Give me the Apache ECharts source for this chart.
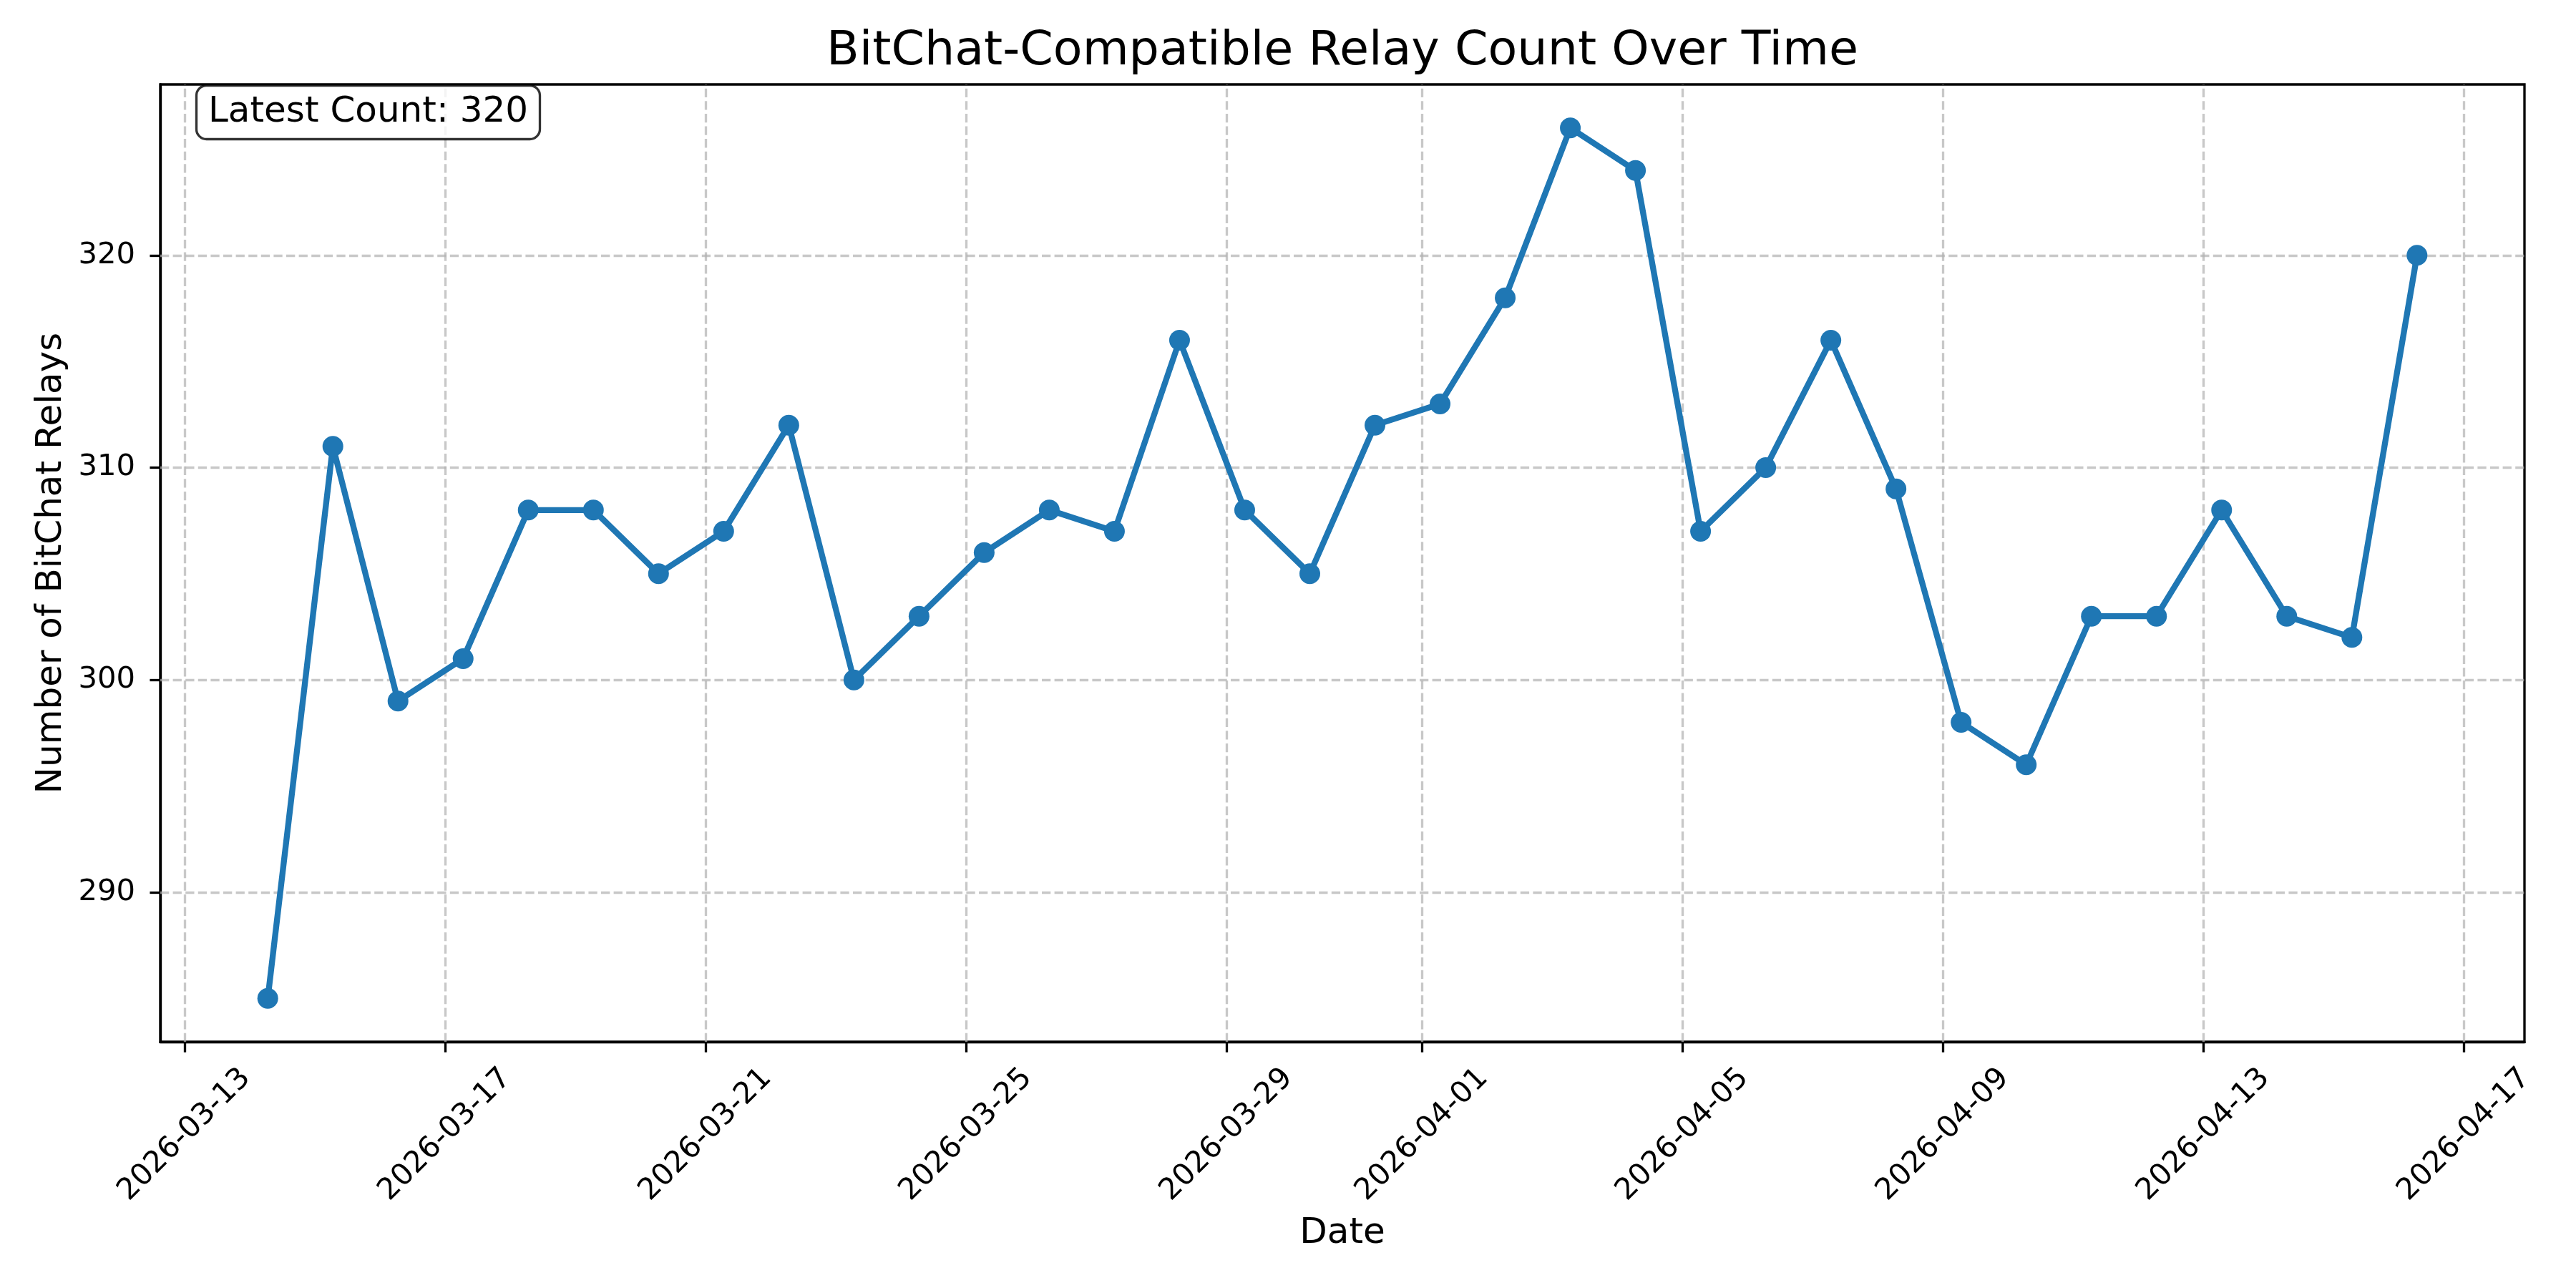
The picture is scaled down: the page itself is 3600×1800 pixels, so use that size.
<!DOCTYPE html>
<html>
<head>
<meta charset="utf-8">
<script src="https://cdn.jsdelivr.net/npm/echarts@6/dist/echarts.min.js"></script>
<style>
  html, body { margin: 0; padding: 0; background: #fff; }
  #chart { width: 3600px; height: 1800px; }
</style>
</head>
<body>
<div id="chart"></div>
<script>
// ---- data ----
const dates = [
  '2026-03-14','2026-03-15','2026-03-16','2026-03-17','2026-03-18','2026-03-19','2026-03-20',
  '2026-03-21','2026-03-22','2026-03-23','2026-03-24','2026-03-25','2026-03-26','2026-03-27',
  '2026-03-28','2026-03-29','2026-03-30','2026-03-31','2026-04-01','2026-04-02','2026-04-03',
  '2026-04-04','2026-04-05','2026-04-06','2026-04-07','2026-04-08','2026-04-09','2026-04-10',
  '2026-04-11','2026-04-12','2026-04-13','2026-04-14','2026-04-15','2026-04-16'
];
const sampleTime = 'T06:38:00Z';
const relayCounts = [
  285, 311, 299, 301, 308, 308, 305,
  307, 312, 300, 303, 306, 308, 307,
  316, 308, 305, 312, 313, 318, 326,
  324, 307, 310, 316, 309, 298, 296,
  303, 303, 308, 303, 302, 320
];
const xTickLabels = ['2026-03-13','2026-03-17','2026-03-21','2026-03-25','2026-03-29',
                     '2026-04-01','2026-04-05','2026-04-09','2026-04-13','2026-04-17'];
const yTickValues = [290, 300, 310, 320];

const titleText = 'BitChat-Compatible Relay Count Over Time';
const xLabel = 'Date';
const yLabel = 'Number of BitChat Relays';

// ---- build ----
const DAY = 86400000;
const base = Date.parse(xTickLabels[0] + 'T00:00:00Z');
const toDays = s => (Date.parse(s) - base) / DAY;
const xs = dates.map(d => toDays(d + sampleTime));
const xTickVals = xTickLabels.map(d => toDays(d + 'T00:00:00Z'));
const seriesData = xs.map((x, i) => [x, relayCounts[i]]);

const xMinD = Math.min(...xs), xMaxD = Math.max(...xs);
const yMinD = Math.min(...relayCounts), yMaxD = Math.max(...relayCounts);
const xPad = 0.05 * (xMaxD - xMinD), yPad = 0.05 * (yMaxD - yMinD);

const FONT = 'DejaVu Sans';
const gridColor = 'rgba(176,176,176,0.7)';
const gridLine = { color: gridColor, width: 3.33, type: [12.3, 5.3] };

const chart = echarts.init(document.getElementById('chart'), null, { renderer: 'canvas' });
chart.setOption({
  animation: false,
  backgroundColor: '#ffffff',
  title: [{
    text: 'Latest Count: ' + relayCounts[relayCounts.length - 1],
    left: 274, top: 119,
    backgroundColor: 'rgba(255,255,255,0.8)',
    borderColor: 'rgba(0,0,0,0.8)',
    borderWidth: 3.33,
    borderRadius: 14,
    padding: [13, 17],
    textStyle: { fontSize: 50, fontWeight: 'normal', color: '#000', fontFamily: FONT, lineHeight: 50 }
  }],
  graphic: [{
    type: 'text',
    x: 1876, y: 73,
    z: 10,
    style: {
      text: titleText,
      fill: '#000',
      font: '66.7px "DejaVu Sans"',
      textAlign: 'center',
      textVerticalAlign: 'middle'
    }
  }],
  grid: {
    left: 224, right: 72, top: 118, bottom: 344,
    show: true, borderColor: '#000', borderWidth: 3.33,
    containLabel: false
  },
  xAxis: {
    type: 'value',
    min: xMinD - xPad,
    max: xMaxD + xPad,
    axisLine: { show: true, onZero: false, lineStyle: { color: '#000', width: 3.33 } },
    axisTick: { show: true, length: 14.6, lineStyle: { color: '#000', width: 3.33 }, customValues: xTickVals },
    axisLabel: {
      customValues: xTickVals,
      formatter: v => new Date(base + Math.round(v) * DAY).toISOString().slice(0, 10),
      rotate: 45, align: 'center', verticalAlign: 'middle', margin: 130,
      fontSize: 41.7, color: '#000', fontFamily: FONT
    },
    splitLine: { show: false },
    name: xLabel, nameLocation: 'middle', nameGap: 243,
    nameTextStyle: { fontSize: 50, color: '#000', fontFamily: FONT }
  },
  yAxis: {
    type: 'value',
    min: yMinD - yPad,
    max: yMaxD + yPad,
    axisLine: { show: true, onZero: false, lineStyle: { color: '#000', width: 3.33 } },
    axisTick: { show: true, length: 14.6, lineStyle: { color: '#000', width: 3.33 }, customValues: yTickValues },
    axisLabel: {
      customValues: yTickValues, margin: 35,
      fontSize: 41.7, color: '#000', fontFamily: FONT
    },
    splitLine: { show: false },
    name: yLabel, nameLocation: 'middle', nameGap: 127,
    nameTextStyle: { fontSize: 50, color: '#000', fontFamily: FONT }
  },
  series: [{
    type: 'line',
    data: seriesData,
    symbol: 'circle',
    symbolSize: 29,
    z: 3,
    lineStyle: { color: '#1f77b4', width: 8.33 },
    itemStyle: { color: '#1f77b4' },
    markLine: {
      silent: true,
      z: 1,
      symbol: ['none', 'none'],
      label: { show: false },
      lineStyle: gridLine,
      emphasis: { disabled: true },
      data: xTickVals.map(v => ({ xAxis: v })).concat(yTickValues.map(v => ({ yAxis: v })))
    }
  }]
});
</script>
</body>
</html>
